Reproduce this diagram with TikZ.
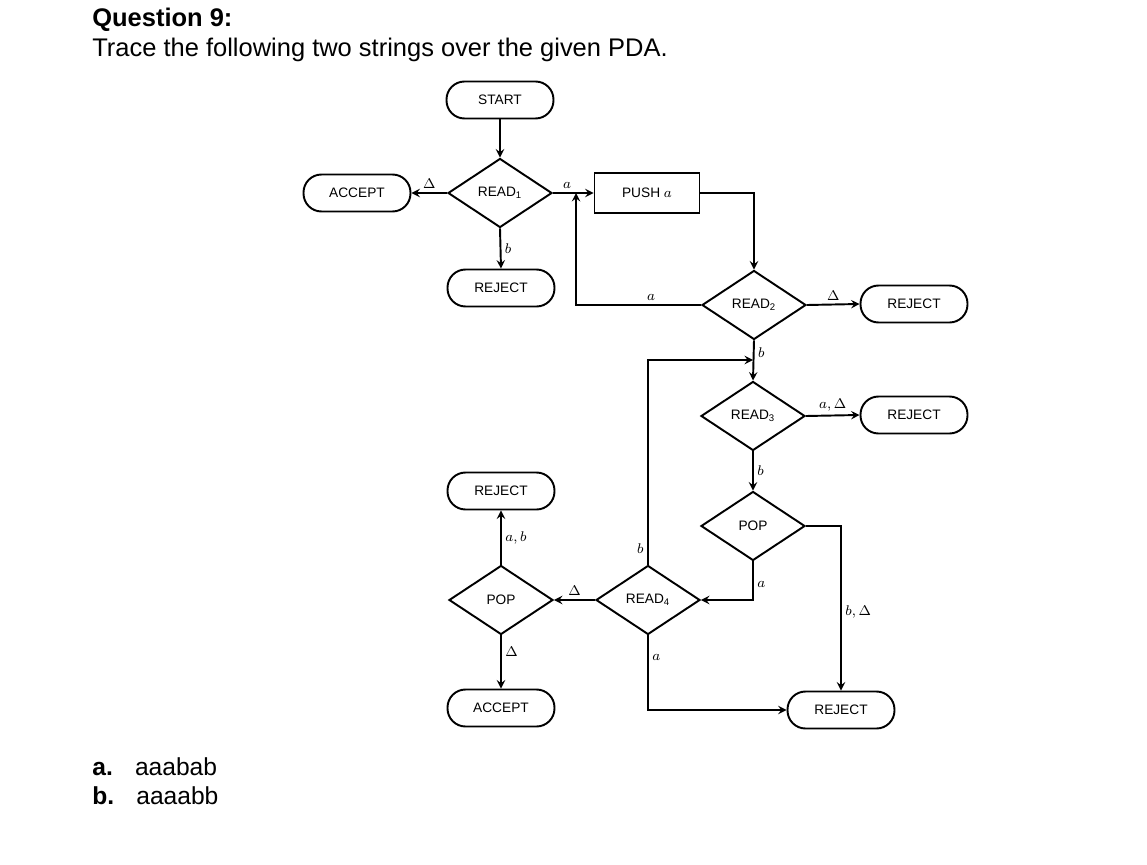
\documentclass[tikz,border=0pt]{standalone}
\usepackage{fontspec}
\setmainfont{Liberation Sans}
\usetikzlibrary{shapes.geometric}
\tikzset{
  term/.style={draw, line width=1.1pt, rounded corners=0.36cm, minimum width=2.14cm, minimum height=0.74cm, inner sep=0pt, font=\fontsize{7.8}{9}\selectfont},
  test/.style={draw, diamond, line width=1.1pt, minimum width=2.08cm, minimum height=1.38cm, inner sep=0pt, font=\fontsize{7.8}{9}\selectfont},
  pushbox/.style={draw, rectangle, line width=1.1pt, minimum width=2.1cm, minimum height=0.8cm, inner sep=0pt, font=\fontsize{7.8}{9}\selectfont},
  lab/.style={font=\fontsize{8.5}{10}\selectfont, inner sep=2pt},
  txt/.style={anchor=base west, inner sep=0pt},
  flow/.style={->, line width=1.1pt}
}
\begin{document}
\begin{tikzpicture}[>=stealth, x=0.02cm, y=-0.02cm]
\useasboundingbox (0,0) rectangle (1147,865);
% Aufgabe
\node[txt, font=\fontsize{14.5}{17}\selectfont\bfseries] (title) at (92,27) {Question 9:};
\node[txt, font=\fontsize{14.5}{17}\selectfont] (task) at (92,57) {Trace the following two strings over the given PDA.};
\node[txt, font=\fontsize{14}{17}\selectfont] (wa) at (92,775) {\textbf{a.}\hspace{0.9em}aaabab};
\node[txt, font=\fontsize{14}{17}\selectfont] (wb) at (92,804) {\textbf{b.}\hspace{0.9em}aaaabb};
% Knoten
\node[term] (start) at (500,100) {START};
\node[test] (read1) at (500,193) {READ\textsubscript{1}};
\node[term] (accept1) at (357,193) {ACCEPT};
\node[pushbox] (push) at (647,193) {PUSH $a$};
\node[term] (reject1) at (501,288) {REJECT};
\node[test] (read2) at (754,305) {READ\textsubscript{2}};
\node[term] (reject2) at (914,304) {REJECT};
\node[test] (read3) at (753,416) {READ\textsubscript{3}};
\node[term] (reject3) at (914,415) {REJECT};
\node[test] (pop1) at (753,526) {POP};
\node[test] (read4) at (648,600) {READ\textsubscript{4}};
\node[test] (pop2) at (501,600) {POP};
\node[term] (reject4) at (501,491) {REJECT};
\node[term] (accept2) at (501,708) {ACCEPT};
\node[term] (reject5) at (841,710) {REJECT};
\coordinate (merge) at (576,193);
\coordinate (join) at (753,360);
% Kanten
\draw[flow] (start) -- (read1);
\draw[flow] (read1.west) -- node[lab, above] {$\Delta$} (accept1.east);
\draw[flow] (read1.east) -- node[lab, above, pos=0.35] {$a$} (push.west);
\draw[flow] (read1.south) -- node[lab, right] {$b$} (reject1.north);
\draw[flow] (push.east) -| (read2.north);
\draw[flow] (read2.west) -| node[lab, above, pos=0.2] {$a$} (merge);
\draw[flow] (read2.east) -- node[lab, above] {$\Delta$} (reject2.west);
\draw[flow] (read2.south) -- node[lab, right, pos=0.3] {$b$} (read3.north);
\draw[flow] (read4.north) |- node[lab, left, pos=0.04] {$b$} (join);
\draw[flow] (read3.east) -- node[lab, above] {$a,\Delta$} (reject3.west);
\draw[flow] (read3.south) -- node[lab, right] {$b$} (pop1.north);
\draw[flow] (pop1.east) -| node[lab, right, pos=0.76] {$b,\Delta$} (reject5.north);
\draw[flow] (pop1.south) |- node[lab, right, pos=0.3] {$a$} (read4.east);
\draw[flow] (read4.west) -- node[lab, above] {$\Delta$} (pop2.east);
\draw[flow] (pop2.north) -- node[lab, right] {$a,b$} (reject4.south);
\draw[flow] (pop2.south) -- node[lab, right, pos=0.3] {$\Delta$} (accept2.north);
\draw[flow] (read4.south) |- node[lab, right, pos=0.15] {$a$} (reject5.west);
\end{tikzpicture}
\end{document}
